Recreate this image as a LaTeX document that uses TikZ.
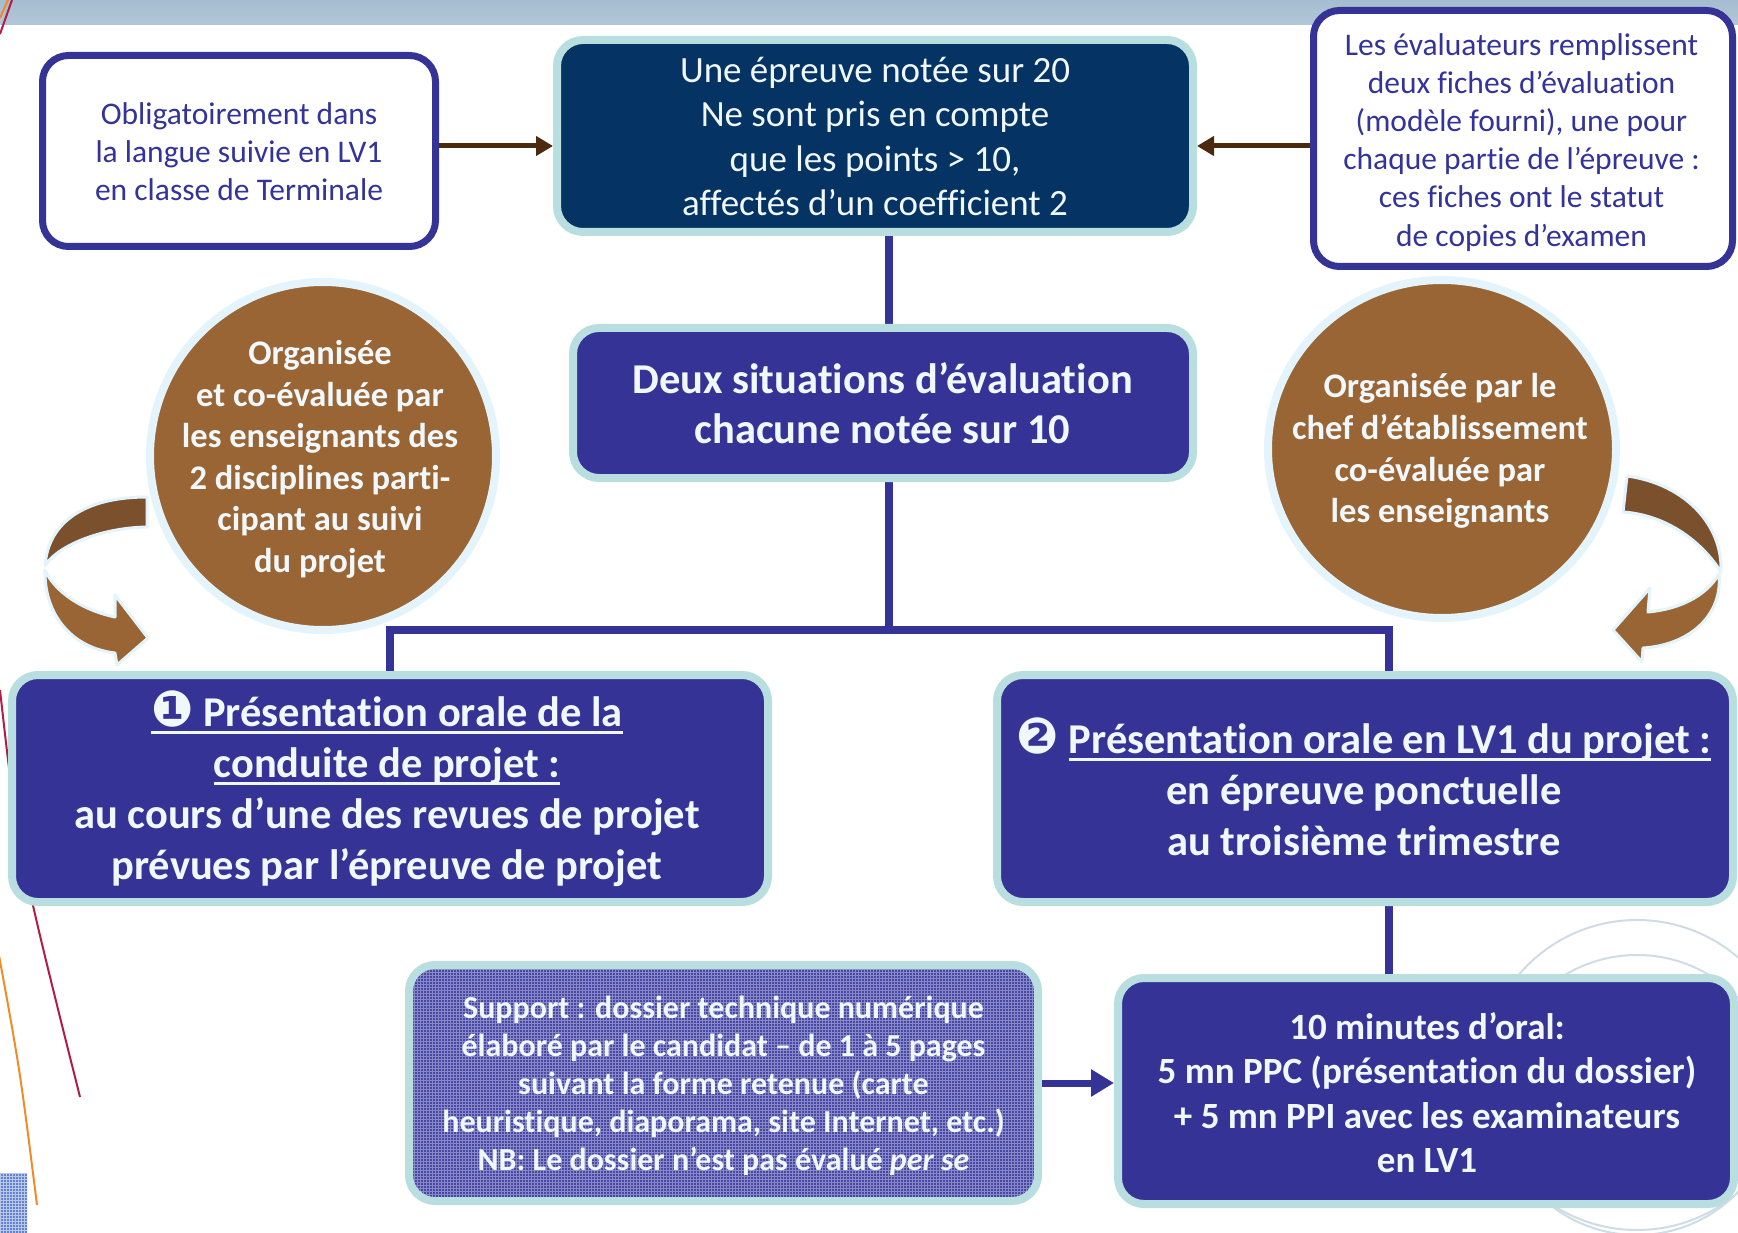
\documentclass[tikz,border=0pt]{standalone}
\usepackage{fontspec}
\setmainfont{Carlito}[Ligatures=NoCommon]
\newfontfamily\dvfont{DejaVu Sans}
\usetikzlibrary{arrows.meta,shapes.geometric,patterns}
\definecolor{dblue}{RGB}{53,52,150}
\definecolor{navy}{RGB}{4,51,100}
\definecolor{cyanb}{RGB}{184,222,224}
\definecolor{lighttxt}{RGB}{240,248,252}
\definecolor{brownc}{RGB}{153,101,52}
\definecolor{brownd}{RGB}{122,81,44}
\definecolor{circb}{RGB}{228,244,253}
\definecolor{arrbrown}{RGB}{75,42,13}
\definecolor{bandtop}{RGB}{166,188,208}
\definecolor{bandbot}{RGB}{178,199,216}
\definecolor{hbase}{RGB}{72,72,158}
\definecolor{hgrid}{RGB}{136,136,204}
\definecolor{atext}{RGB}{51,51,153}
\definecolor{greyc}{RGB}{208,220,228}
\definecolor{crimson}{RGB}{176,30,70}
\definecolor{orangec}{RGB}{240,140,40}
\definecolor{bluesq}{RGB}{100,130,210}
\pgfdeclarelayer{bg}
\pgfsetlayers{bg,main}
\newsavebox\ulbox
\newcommand\ulin[1]{\sbox\ulbox{#1}\rlap{\rule[-7.5pt]{\wd\ulbox}{3pt}}\usebox\ulbox}
\begin{document}
\begin{tikzpicture}[x=1pt,y=-1pt,
  box/.style={rectangle, rounded corners=26pt, inner sep=0pt},
  wbox/.style={box, draw=dblue, line width=7pt, fill=white},
  cbox/.style={box, draw=cyanb, line width=8pt, fill=dblue},
  bubble/.style={ellipse, draw=circb, line width=8pt, fill=brownc, inner sep=0pt},
  txt/.style={inner sep=0pt, align=center, execute at begin node=\strut, execute at end node=\strut},
  ltxt/.style={txt, text=lighttxt},
  conn/.style={draw=dblue, line width=7.5pt},
  band/.style={draw=circb, line width=3pt, line join=round},
  brarrow/.style={draw=arrbrown, line width=5pt, -{Triangle[length=17pt,width=19pt]}}]
\useasboundingbox (0,0) rectangle (1738,1233);
\begin{pgfonlayer}{bg}
  \fill[white] (0,0) rectangle (1738,1233);
  \shade[top color=bandtop, bottom color=bandbot] (0,0) rectangle (1738,25);
  \begin{scope}
    \clip (0,0) rectangle (1738,1233);
    \draw[greyc, line width=2pt] (1637,1075) circle[radius=155];
    \draw[greyc, line width=2pt] (1637,1095) circle[radius=140];
    \draw[crimson, line width=2pt] (0,690) .. controls (18,850) .. (80,1097);
    \draw[orangec, line width=2pt] (-2,950) .. controls (20,1070) .. (37,1205);
    \draw[crimson, line width=2pt] (12,0) -- (0,34);
    \draw[orangec, line width=2pt] (8,0) -- (0,18);
    \fill[bluesq] (0,1173) rectangle (27,1233);
    \fill[pattern=grid, pattern color=white!55!bluesq] (0,1173) rectangle (27,1233);
  \end{scope}
\end{pgfonlayer}

% curved arrows
\filldraw[band, fill=brownd] (147,497) .. controls (85,497) and (48,522) .. (45,566)
  .. controls (55,548) and (97,528) .. (147,527) -- cycle;
\filldraw[band, fill=brownc] (45,570) .. controls (44,615) and (72,648) .. (115,653)
  -- (117,665) -- (148,638) -- (115,595) -- (115,617)
  .. controls (82,610) and (55,592) .. (45,570) -- cycle;
\filldraw[band, fill=brownd] (1627,476) .. controls (1685,484) and (1723,525) .. (1721,572)
  .. controls (1702,542) and (1667,515) .. (1623,512) -- cycle;
\filldraw[band, fill=brownc] (1719,574) .. controls (1723,615) and (1690,645) .. (1643,648)
  -- (1642,662) -- (1613,630) -- (1650,588) -- (1648,612)
  .. controls (1680,609) and (1706,596) .. (1719,574) -- cycle;

% boxes
\node[wbox, minimum width=393, minimum height=191] (A) at (239,151) {};
\node[box, draw=cyanb, line width=8pt, fill=navy, minimum width=636, minimum height=192] (B) at (875,136) {};
\node[wbox, minimum width=419, minimum height=256] (C) at (1523,138.5) {};
\node[cbox, minimum width=620, minimum height=150] (D) at (883,403) {};
\node[bubble, minimum width=346, minimum height=348] (L) at (323,456) {};
\node[bubble, minimum width=348, minimum height=338] (R) at (1442,449) {};
\node[cbox, minimum width=756, minimum height=227] (E) at (390,788.5) {};
\node[cbox, minimum width=736, minimum height=227] (F) at (1365,788.5) {};
\node[cbox, minimum width=616, minimum height=226] (G) at (1426,1091) {};
\node[box, draw=cyanb, line width=8pt, preaction={fill=hbase}, pattern=grid, pattern color=hgrid,
  minimum width=629, minimum height=236] (H) at (723.5,1083) {};

% texts
\node[txt, text=atext, font=\fontsize{31.5}{38}\selectfont] (At) at (239,156.9)
  {Obligatoirement dans\\la langue suivie en LV1\\en classe de Terminale};
\node[ltxt, font=\fontsize{37}{44.5}\selectfont] (Bt) at (875,143.2)
  {Une épreuve notée sur 20\\Ne sont pris en compte\\que les points > 10,\\affectés d’un coefficient 2};
\node[txt, text=atext, font=\fontsize{31.5}{38.2}\selectfont] (Ct) at (1521.5,145.4)
  {Les évaluateurs remplissent\\deux fiches d’évaluation\\(modèle fourni), une pour\\chaque partie de l’épreuve :\\ces fiches ont le statut\\de copies d’examen};
\node[ltxt, font=\fontsize{42.5}{50}\selectfont\bfseries] (Dt) at (882.5,410.4)
  {Deux situations d’évaluation\\chacune notée sur 10};
\node[ltxt, font=\fontsize{34.5}{41.6}\selectfont\bfseries] (Lt) at (320,462.7)
  {Organisée\\et co-évaluée par\\les enseignants des\\2 disciplines parti-\\cipant au suivi\\du projet};
\node[ltxt, font=\fontsize{34.5}{41.6}\selectfont\bfseries] (Rt) at (1440,454.5)
  {Organisée par le\\chef d’établissement\\co-évaluée par\\les enseignants};
\node[ltxt, font=\fontsize{42.5}{51}\selectfont\bfseries] (Et) at (387,793)
  {\ulin{{\dvfont\fontsize{50}{51}\selectfont ❶} Présentation orale de la}\\\ulin{conduite de projet :}\\au cours d’une des revues de projet\\prévues par l’épreuve de projet};
\node[ltxt, font=\fontsize{42.5}{51}\selectfont\bfseries] (Ft) at (1364,794.5)
  {{\dvfont\fontsize{50}{51}\selectfont ❷} \ulin{Présentation orale en LV1 du projet :}\\en épreuve ponctuelle\\au troisième trimestre};
\node[ltxt, font=\fontsize{37}{44.5}\selectfont\bfseries] (Gt) at (1427,1099)
  {10 minutes d’oral:\\5 mn PPC (présentation du dossier)\\+ 5 mn PPI avec les examinateurs\\en LV1};
\node[ltxt, font=\fontsize{32}{38}\selectfont\bfseries] (Ht) at (723.5,1088.9)
  {Support : dossier technique numérique\\élaboré par le candidat – de 1 à 5 pages\\suivant la forme retenue (carte\\heuristique, diaporama, site Internet, etc.)\\NB: Le dossier n’est pas évalué \textit{per se}};

% connectors
\coordinate (vx) at (889,0);
\coordinate (fx) at (1389,0);
\coordinate (hy) at (0,630);
\coordinate (ay) at (0,146);
\begin{pgfonlayer}{bg}
  \draw[conn] (B.south -| vx) -- (D.north -| vx);
  \draw[conn] (D.south -| vx) -- (vx |- hy);
  \draw[conn, line join=miter] (E.north) -- (E.north |- hy) -- (hy -| fx) -- (F.north -| fx);
  \draw[conn] (F.south -| fx) -- (G.north -| fx);
\end{pgfonlayer}
\draw[brarrow] (A.east |- ay) -- (B.west |- ay);
\draw[brarrow] (C.west |- ay) -- (B.east |- ay);
\draw[dblue, line width=7pt, -{Triangle[length=23pt,width=26pt]}] (H.east) -- (G.west |- H.east);
\end{tikzpicture}
\end{document}
